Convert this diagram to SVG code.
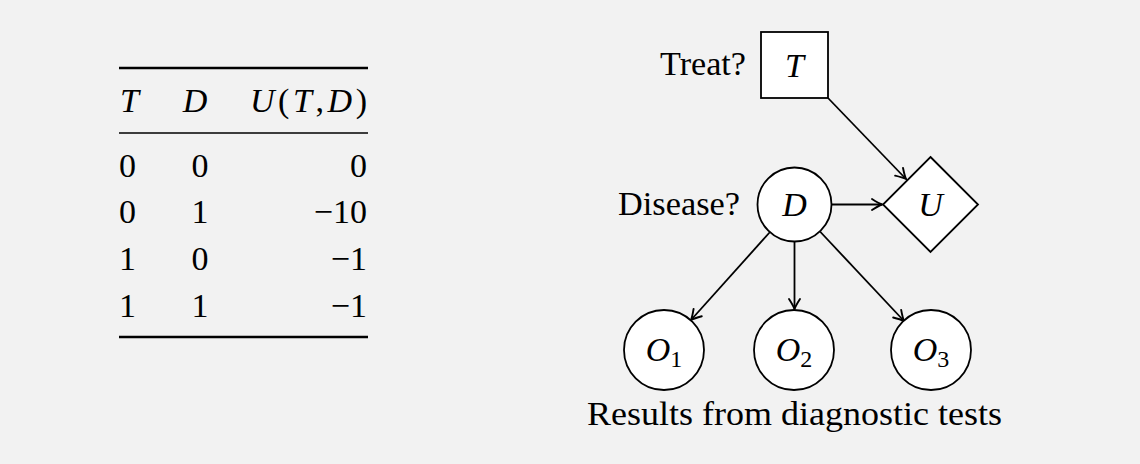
<svg xmlns="http://www.w3.org/2000/svg" width="1140" height="464" viewBox="0 0 1140 464">
<style>
text{font-family:"Liberation Serif","Times New Roman",serif;font-size:34px;fill:#000}
.it{font-style:italic}
.sub{font-size:24px;font-style:normal}
.node{fill:#fff;stroke:#000;stroke-width:1.8}
.edge{stroke:#000;stroke-width:1.8;fill:none}
.mid{text-anchor:middle}
.end{text-anchor:end}
</style>
<defs>
<marker id="arr" markerUnits="userSpaceOnUse" markerWidth="16" markerHeight="16" viewBox="-13 -8 16 16" refX="0" refY="0" orient="auto">
<path d="M-10,-5.5 Q-3.5,-1.3 0,0 Q-3.5,1.3 -10,5.5" fill="none" stroke="#000" stroke-width="1.9" stroke-linecap="round"/>
</marker>
</defs>
<rect width="1140" height="464" fill="#f2f2f2"/>
<g id="table">
<line x1="119" y1="68" x2="368" y2="68" stroke="#000" stroke-width="2.6"/>
<line x1="119" y1="133" x2="368" y2="133" stroke="#000" stroke-width="1.5"/>
<line x1="119" y1="337" x2="368" y2="337" stroke="#000" stroke-width="2.6"/>
<text x="120" y="112" class="it">T</text>
<text x="195" y="112" class="it mid">D</text>
<text x="367" y="112" class="end" textLength="117" lengthAdjust="spacing"><tspan class="it">U</tspan>(<tspan class="it">T</tspan>,<tspan class="it">D</tspan>)</text>
<text x="119" y="177">0</text><text x="200" y="177" class="mid">0</text><text x="367" y="177" class="end">0</text>
<text x="119" y="223">0</text><text x="200" y="223" class="mid">1</text><text x="367" y="223" class="end">−10</text>
<text x="119" y="270">1</text><text x="200" y="270" class="mid">0</text><text x="367" y="270" class="end">−1</text>
<text x="119" y="317">1</text><text x="200" y="317" class="mid">1</text><text x="367" y="317" class="end">−1</text>
</g>
<g id="connectors">
<line class="edge" x1="828" y1="98" x2="906" y2="179" marker-end="url(#arr)"/>
<line class="edge" x1="832" y1="204.5" x2="882" y2="204.5" marker-end="url(#arr)"/>
<line class="edge" x1="770" y1="232" x2="691" y2="320" marker-end="url(#arr)"/>
<line class="edge" x1="794.5" y1="241.5" x2="794.5" y2="309" marker-end="url(#arr)"/>
<line class="edge" x1="820" y1="231.5" x2="904" y2="321" marker-end="url(#arr)"/>
</g>
<g id="node-T">
<rect class="node" x="761" y="32" width="67" height="66"/>
<text x="794.5" y="77" class="it mid">T</text>
<text x="746" y="75" class="end" textLength="86" lengthAdjust="spacingAndGlyphs">Treat?</text>
</g>
<g id="node-D">
<circle class="node" cx="794.5" cy="204.5" r="37"/>
<text x="794.5" y="216" class="it mid">D</text>
<text x="740" y="215" class="end" textLength="122" lengthAdjust="spacingAndGlyphs">Disease?</text>
</g>
<g id="node-U">
<polygon class="node" points="930.5,157 978,204.5 930.5,252 883,204.5"/>
<text x="930.5" y="216" class="it mid">U</text>
</g>
<g id="node-O1">
<circle class="node" cx="664" cy="350" r="40"/>
<text x="664" y="361" class="mid"><tspan class="it">O</tspan><tspan class="sub" dy="6">1</tspan></text>
</g>
<g id="node-O2">
<circle class="node" cx="794" cy="350" r="40"/>
<text x="794" y="361" class="mid"><tspan class="it">O</tspan><tspan class="sub" dy="6">2</tspan></text>
</g>
<g id="node-O3">
<circle class="node" cx="931" cy="350" r="40"/>
<text x="931" y="361" class="mid"><tspan class="it">O</tspan><tspan class="sub" dy="6">3</tspan></text>
</g>
<g id="caption">
<text x="587" y="425" textLength="415" lengthAdjust="spacingAndGlyphs">Results from diagnostic tests</text>
</g>
</svg>
